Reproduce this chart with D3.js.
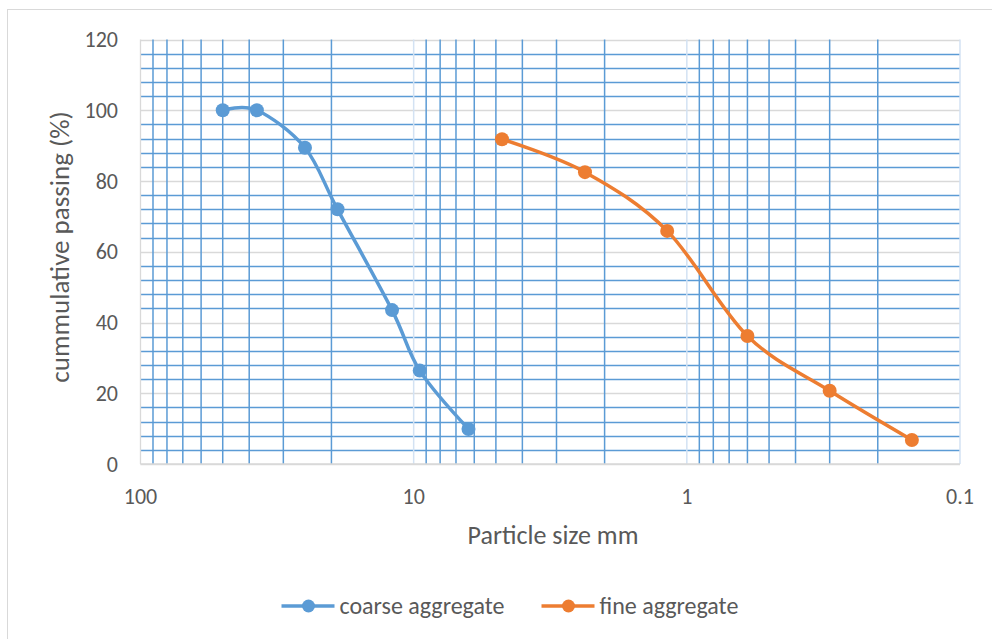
<!DOCTYPE html>
<html>
<head>
<meta charset="utf-8">
<script src="https://cdn.jsdelivr.net/npm/d3@7"></script>
<style>
  body { margin: 0; background: #fff; }
  text { font-family: Carlito, Calibri, Lato, "Open Sans", sans-serif; fill: #595959; }
</style>
</head>
<body>
<svg width="992" height="639"></svg>
<script>
// sieve data
var coarseSize = [50, 37.5, 25, 19, 12, 9.5, 6.3];
var coarsePassing = [100, 100, 89.4, 72.0, 43.5, 26.4, 9.9];
var fineSize = [4.75, 2.36, 1.18, 0.6, 0.3, 0.15];
var finePassing = [91.8, 82.5, 65.9, 36.2, 20.7, 6.8];
var yTicks = [0, 20, 40, 60, 80, 100, 120];
var xTicks = [100, 10, 1, 0.1];
var seriesNames = ["coarse aggregate", "fine aggregate"];
var seriesColors = ["#5B9BD5", "#ED7D31"];

var svg = d3.select("svg");
var plotLeft = 140.5, plotRight = 960, plotTop = 39.5, plotBottom = 464;

var x = d3.scaleLog().domain([100, 0.1]).range([plotLeft, plotRight]);
var y = d3.scaleLinear().domain([0, 120]).range([plotBottom, plotTop]);

// outer chart border (right/bottom edges fall outside the picture)
svg.append("rect")
  .attr("x", 7.5).attr("y", 9.5)
  .attr("width", 1000).attr("height", 700)
  .attr("fill", "#fff").attr("stroke", "#d9d9d9");

var grid = svg.append("g");

// minor horizontal lines every 4
grid.selectAll(".hmin")
  .data(d3.range(0, 121, 4).filter(function(d) { return d % 20 !== 0; }))
  .enter().append("line")
  .attr("x1", plotLeft).attr("x2", plotRight)
  .attr("y1", function(d) { return Math.round(y(d)) + 0.5; })
  .attr("y2", function(d) { return Math.round(y(d)) + 0.5; })
  .attr("stroke", "#5B9BD5").attr("stroke-width", 1.5);

// major horizontal lines
grid.selectAll(".hmaj")
  .data(yTicks)
  .enter().append("line")
  .attr("x1", plotLeft).attr("x2", plotRight)
  .attr("y1", function(d) { return Math.round(y(d)) + 0.5; })
  .attr("y2", function(d) { return Math.round(y(d)) + 0.5; })
  .attr("stroke", "#d9d9d9").attr("stroke-width", 1.3);

// vertical lines: log ticks, powers of ten are the pale major ones
var isMajor = function(d) { return xTicks.some(function(t) { return Math.abs(t - d) < 1e-9; }); };

grid.selectAll(".vmin")
  .data(x.ticks().filter(function(d) { return !isMajor(d); }))
  .enter().append("line")
  .attr("x1", function(d) { return x(d); }).attr("x2", function(d) { return x(d); })
  .attr("y1", plotTop).attr("y2", plotBottom)
  .attr("stroke", "#5B9BD5").attr("stroke-width", 1.5);

grid.selectAll(".vmaj")
  .data(xTicks.slice(1))
  .enter().append("line")
  .attr("x1", function(d) { return x(d); }).attr("x2", function(d) { return x(d); })
  .attr("y1", plotTop).attr("y2", plotBottom)
  .attr("stroke", "#d3e2f3").attr("stroke-width", 1.5);

// axis lines
grid.append("line")
  .attr("x1", plotLeft).attr("x2", plotLeft).attr("y1", plotTop).attr("y2", plotBottom)
  .attr("stroke", "#d9d9d9").attr("stroke-width", 1.3);
grid.append("line")
  .attr("x1", plotLeft).attr("x2", plotRight).attr("y1", plotBottom).attr("y2", plotBottom)
  .attr("stroke", "#d9d9d9").attr("stroke-width", 1.3);

// tick labels
svg.append("g").selectAll("text")
  .data(yTicks)
  .enter().append("text")
  .attr("x", 118).attr("y", function(d) { return y(d); })
  .attr("dy", "0.35em")
  .attr("text-anchor", "end")
  .style("font-size", "22px")
  .text(function(d) { return d; });

svg.append("g").selectAll("text")
  .data(xTicks)
  .enter().append("text")
  .attr("x", function(d) { return x(d); }).attr("y", 496)
  .attr("dy", "0.35em")
  .attr("text-anchor", "middle")
  .style("font-size", "22px")
  .text(function(d) { return d; });

// axis titles
svg.append("text")
  .attr("x", 553).attr("y", 535)
  .attr("dy", "0.35em")
  .attr("text-anchor", "middle")
  .style("font-size", "26px")
  .text("Particle size mm");

svg.append("text")
  .attr("transform", "translate(60,247) rotate(-90)")
  .attr("dy", "0.35em")
  .attr("text-anchor", "middle")
  .style("font-size", "27px")
  .text("cummulative passing (%)");

// series
var line = d3.line()
  .x(function(d) { return x(d[0]); })
  .y(function(d) { return y(d[1]); })
  .curve(d3.curveCardinal.tension(0));

var series = [d3.zip(coarseSize, coarsePassing), d3.zip(fineSize, finePassing)];

series.forEach(function(pts, i) {
  svg.append("path")
    .datum(pts)
    .attr("d", line)
    .attr("fill", "none")
    .attr("stroke", seriesColors[i])
    .attr("stroke-width", 3.5)
    .attr("stroke-linecap", "round");

  svg.append("g").selectAll("circle")
    .data(pts)
    .enter().append("circle")
    .attr("cx", function(d) { return x(d[0]); })
    .attr("cy", function(d) { return y(d[1]); })
    .attr("r", 7)
    .attr("fill", seriesColors[i]);
});

// legend
var legendX = [281.5, 541.5];
var legend = svg.append("g").selectAll("g")
  .data(seriesNames)
  .enter().append("g")
  .attr("transform", function(d, i) { return "translate(" + legendX[i] + ",606)"; });

legend.append("line")
  .attr("x1", 0).attr("x2", 53)
  .attr("stroke", function(d, i) { return seriesColors[i]; })
  .attr("stroke-width", 3.5);
legend.append("circle")
  .attr("cx", 27).attr("r", 6.5)
  .attr("fill", function(d, i) { return seriesColors[i]; });
legend.append("text")
  .attr("x", 58)
  .attr("dy", "0.35em")
  .style("font-size", "24px")
  .text(function(d) { return d; });
</script>
</body>
</html>
